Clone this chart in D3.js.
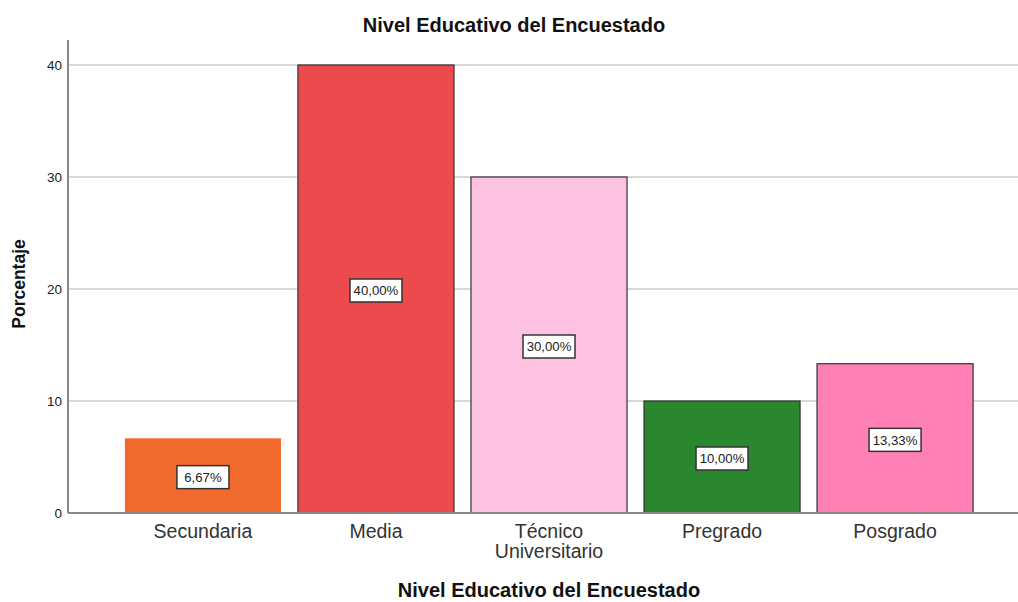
<!DOCTYPE html>
<html>
<head>
<meta charset="utf-8">
<script src="https://cdn.jsdelivr.net/npm/d3@7"></script>
<style>
  body { margin: 0; background: #fff; }
  text { font-family: "Liberation Sans", Arial, sans-serif; }
</style>
</head>
<body>
<script>
// data
const categories = ["Secundaria", "Media", "Técnico Universitario", "Pregrado", "Posgrado"];
const values = [6.67, 40.00, 30.00, 10.00, 13.33];
const colors = ["#f26a2b", "#ec4a4c", "#fdc1e1", "#2a862f", "#fe80b4"];
const yTicks = [0, 10, 20, 30, 40];

const width = 1018, height = 602;
const svg = d3.select("body").append("svg")
  .attr("width", width)
  .attr("height", height);

const x = d3.scaleBand()
  .domain(categories)
  .range([73, 1025])
  .paddingInner(0.098)
  .paddingOuter(0.3);

const y = d3.scaleLinear()
  .domain([0, 40])
  .range([513, 65]);

// gridlines
svg.append("g")
  .selectAll("line")
  .data(yTicks.filter(d => d > 0))
  .enter()
  .append("line")
  .attr("x1", 69).attr("x2", width)
  .attr("y1", d => y(d)).attr("y2", d => y(d))
  .attr("stroke", "#d8d8d8")
  .attr("stroke-width", 2);

// y axis
const yAxis = svg.append("g")
  .attr("transform", "translate(68,0)")
  .call(d3.axisLeft(y).tickValues(yTicks).tickSize(0).tickPadding(6));
yAxis.select(".domain").remove();
yAxis.selectAll("text").attr("font-size", 13.5).attr("fill", "#222");
svg.append("line")
  .attr("x1", 68).attr("x2", 68)
  .attr("y1", 40).attr("y2", y(0))
  .attr("stroke", "#888").attr("stroke-width", 2);

// bars
svg.append("g")
  .selectAll("rect")
  .data(categories)
  .enter()
  .append("rect")
  .attr("x", d => x(d))
  .attr("y", (d, i) => y(values[i]))
  .attr("width", x.bandwidth())
  .attr("height", (d, i) => y(0) - y(values[i]))
  .attr("fill", (d, i) => colors[i])
  .attr("stroke", (d, i) => i === 0 ? "none" : "#333")
  .attr("stroke-width", 1.2);

// x axis line
svg.append("line")
  .attr("x1", 68).attr("x2", width)
  .attr("y1", y(0)).attr("y2", y(0))
  .attr("stroke", "#888").attr("stroke-width", 2);

// x tick labels
const xl = svg.append("g")
  .selectAll("text")
  .data(categories)
  .enter()
  .append("text")
  .attr("x", d => x(d) + x.bandwidth() / 2)
  .attr("y", 538)
  .attr("text-anchor", "middle")
  .attr("font-size", 19.5)
  .attr("fill", "#333");
xl.each(function(d) {
  const words = d === "Técnico Universitario" ? ["Técnico", "Universitario"] : [d];
  const t = d3.select(this);
  words.forEach((w, k) => {
    t.append("tspan")
      .attr("x", x(d) + x.bandwidth() / 2)
      .attr("dy", k === 0 ? 0 : 20)
      .text(w);
  });
});

// value labels
const fmt = v => v.toFixed(2).replace(".", ",") + "%";
const lab = svg.append("g")
  .selectAll("g")
  .data(categories)
  .enter()
  .append("g")
  .attr("transform", (d, i) => "translate(" + (x(d) + x.bandwidth() / 2) + "," + (y(values[i] / 2) + 1) + ")");
lab.append("rect")
  .attr("x", -26).attr("y", -11)
  .attr("width", 52).attr("height", 23)
  .attr("fill", "#fff")
  .attr("stroke", "#333")
  .attr("stroke-width", 1.5);
lab.append("text")
  .attr("text-anchor", "middle")
  .attr("dy", "0.4em")
  .attr("font-size", 13.2)
  .attr("fill", "#222")
  .text((d, i) => fmt(values[i]));

// titles
svg.append("text")
  .attr("x", 514).attr("y", 32)
  .attr("text-anchor", "middle")
  .attr("font-size", 20).attr("font-weight", "bold")
  .attr("fill", "#111")
  .text("Nivel Educativo del Encuestado");

svg.append("text")
  .attr("x", 549).attr("y", 597)
  .attr("text-anchor", "middle")
  .attr("font-size", 20).attr("font-weight", "bold")
  .attr("fill", "#111")
  .text("Nivel Educativo del Encuestado");

svg.append("text")
  .attr("transform", "translate(25,284) rotate(-90)")
  .attr("text-anchor", "middle")
  .attr("font-size", 17.5).attr("font-weight", "bold")
  .attr("fill", "#111")
  .text("Porcentaje");
</script>
</body>
</html>
